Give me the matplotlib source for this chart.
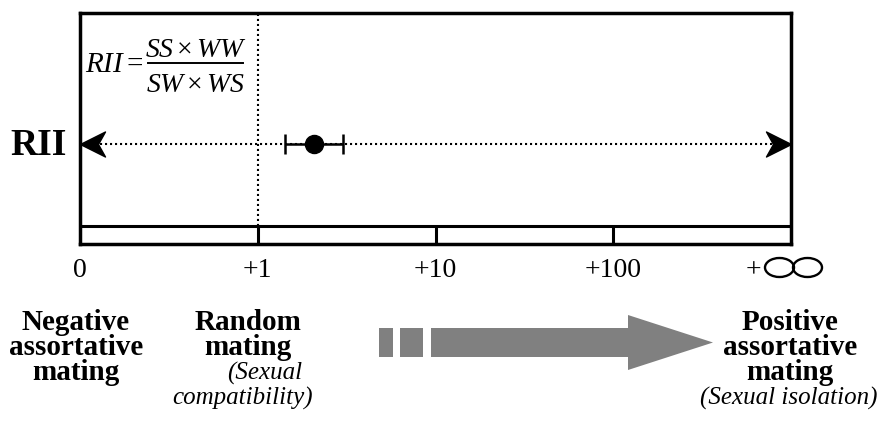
import numpy as np
import matplotlib
matplotlib.use("Agg")
import matplotlib.pyplot as plt
from matplotlib.lines import Line2D
from matplotlib.path import Path
from matplotlib.patches import Ellipse, Polygon, Rectangle


# scale positions: 0, +1, +10, +100, +inf at equal steps
SCALE_POS = [0, 1, 2, 3]
SCALE_LABELS = ["0", "+1", "+10", "+100"]
INF_POS = 4

# observed RII and its interval
RII_VALUE = 2.07
RII_LOW = 1.42
RII_HIGH = 3.02

NEG_LINES = ["Negative", "assortative", "mating"]
RANDOM_LINES = ["Random", "mating"]
RANDOM_NOTE = ["(Sexual", "compatibility)"]
POS_LINES = ["Positive", "assortative", "mating"]
POS_NOTE = ["(Sexual isolation)"]

W, H = 880, 429
SERIF = "Liberation Serif"


def px(x, y):
    # pixel position (from top-left) -> figure fraction
    return x / W, 1 - y / H


def rii_pos(v):
    return 1 + np.log10(v)


def configure_matplotlib():
    plt.rcParams.update({
        "font.family": SERIF,
        "mathtext.fontset": "custom",
        "mathtext.rm": SERIF,
        "mathtext.it": SERIF + ":italic",
        "mathtext.bf": SERIF + ":bold",
    })


def stealth_marker(direction):
    # tip at origin, body pointing back
    verts = [(0, 0), (-1, 0.5), (-0.72, 0), (-1, -0.5), (0, 0)]
    if direction == "left":
        verts = [(-x, y) for x, y in verts]
    codes = [Path.MOVETO, Path.LINETO, Path.LINETO, Path.LINETO, Path.CLOSEPOLY]
    return Path(verts, codes)


def put_lines(fig, x, baselines, lines, **kw):
    for y, line in zip(baselines, lines):
        fig.text(*px(x, y), line, ha="center", va="baseline", **kw)


def main():
    configure_matplotlib()
    fig = plt.figure(figsize=(W / 100, H / 100), dpi=100)
    ax = fig.add_axes([80 / W, 1 - 244 / H, 711 / W, 231.5 / H])
    ax.set_xlim(0, INF_POS)
    ax.set_ylim(0, 1)
    ax.set_xticks([])
    ax.set_yticks([])
    for sp in ax.spines.values():
        sp.set_linewidth(2.5)

    strip_top = 18 / 231.5
    arrow_y = 100 / 231.5
    dots = (0, (1, 1.4))

    ax.axhline(strip_top, color="black", lw=2.2)
    ax.vlines(SCALE_POS[1:], 0, strip_top, color="black", lw=2.2)
    ax.vlines(SCALE_POS[1], strip_top, 1, color="black", lw=1.5, linestyles=dots)

    # two-headed dotted RII axis
    ax.plot([0, INF_POS], [arrow_y, arrow_y], color="black", lw=1.5, ls=dots)
    ax.plot([INF_POS], [arrow_y], marker=stealth_marker("right"), ms=36,
            color="black", clip_on=False, zorder=5)
    ax.plot([0], [arrow_y], marker=stealth_marker("left"), ms=36,
            color="black", clip_on=False, zorder=5)

    x0 = rii_pos(RII_VALUE)
    ax.errorbar([x0], [arrow_y],
                xerr=[[x0 - rii_pos(RII_LOW)], [rii_pos(RII_HIGH) - x0]],
                fmt="o", ms=13, color="black", ecolor="black",
                elinewidth=1.8, capsize=7, capthick=1.8, zorder=6)

    # scale labels
    for pos, lab in zip(SCALE_POS, SCALE_LABELS):
        ax.text(pos, -33 / 231.5, lab, ha="center", va="baseline",
                fontsize=20, transform=ax.get_xaxis_transform())
    fig.text(*px(753.5, 277), "+", ha="center", va="baseline", fontsize=20)
    for cx in (779.5, 807.5):
        fig.add_artist(Ellipse(px(cx, 267.5), 29 / W, 19 / H, fill=False,
                               lw=1.7, color="black", transform=fig.transFigure))

    # RII label and formula
    fig.text(*px(67, 155), "RII", ha="right", va="baseline",
             fontsize=27, fontweight="bold")
    fig.text(*px(85, 72), r"$RII$", ha="left", va="baseline", fontsize=21)
    fig.text(*px(135, 72), "=", ha="center", va="baseline", fontsize=21)
    fig.text(*px(195.5, 57), r"$SS\times WW$", ha="center", va="baseline",
             fontsize=20)
    fig.text(*px(195.5, 92), r"$SW\times WS$", ha="center", va="baseline",
             fontsize=20)
    x1, y1 = px(148, 63)
    x2, _ = px(243, 63)
    fig.add_artist(Line2D([x1, x2], [y1, y1], color="black", lw=1.4,
                          transform=fig.transFigure))

    # bottom captions
    base = [330, 355, 380]
    put_lines(fig, 76, base, NEG_LINES, fontsize=21, fontweight="bold")
    put_lines(fig, 248, base[:2], RANDOM_LINES, fontsize=21, fontweight="bold")
    fig.text(*px(265, 380), RANDOM_NOTE[0], ha="center", va="baseline",
             fontsize=18, style="italic")
    fig.text(*px(243, 405), RANDOM_NOTE[1], ha="center", va="baseline",
             fontsize=18, style="italic")
    put_lines(fig, 790, base, POS_LINES, fontsize=21, fontweight="bold")
    put_lines(fig, 789, [405], POS_NOTE, fontsize=18, style="italic")

    # grey direction arrow
    grey = "#808080"
    for xa, xb in ((379, 393), (400, 423)):
        fx, fy = px(xa, 357)
        fig.add_artist(Rectangle((fx, fy), (xb - xa) / W, 29 / H, color=grey,
                                 lw=0, transform=fig.transFigure))
    body = [(431, 328), (628, 328), (628, 315), (713, 342.5), (628, 370),
            (628, 357), (431, 357)]
    fig.add_artist(Polygon([px(x, y) for x, y in body], closed=True, color=grey,
                           lw=0, transform=fig.transFigure))

    fig.savefig("out.png", dpi=100)
    plt.close(fig)


if __name__ == "__main__":
    main()
